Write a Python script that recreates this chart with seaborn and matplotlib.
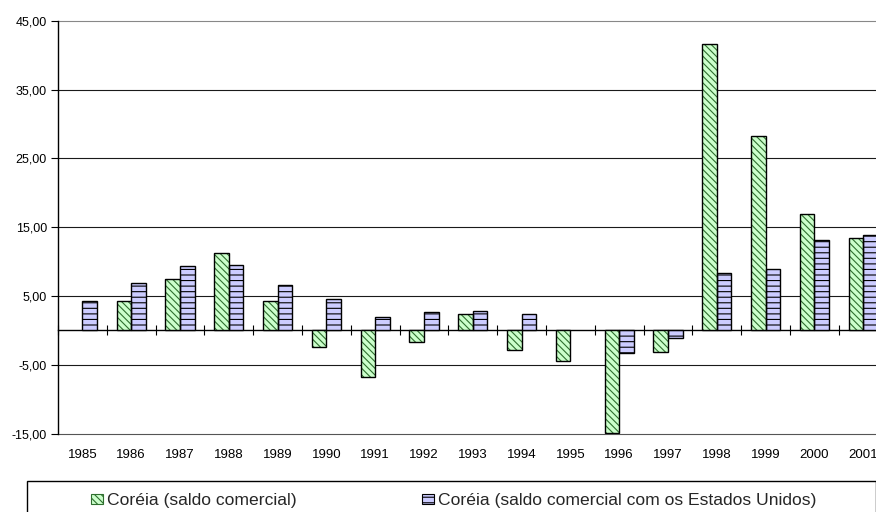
import numpy as np
import pandas as pd
import matplotlib
matplotlib.use("Agg")
import matplotlib.pyplot as plt
import seaborn as sns
from matplotlib.patches import Patch, Rectangle
from matplotlib.ticker import FuncFormatter, NullFormatter

# Trade balance of Korea, 1985-2001 (billion US$)
years = [str(y) for y in range(1985, 2002)]
saldo_total = [np.nan, 4.35, 7.54, 11.2, 4.35, -2.46, -6.81, -1.74, 2.36, -2.86,
               -4.45, -14.93, -3.19, 41.6, 28.26, 16.86, 13.38]
saldo_eua = [4.29, 6.96, 9.36, 9.56, 6.6, 4.54, 1.97, 2.61, 2.84, 2.36,
             np.nan, -3.33, -1.12, 8.3, 8.88, 13.19, 13.91]
series_names = ["Coréia (saldo comercial)",
                "Coréia (saldo comercial com os Estados Unidos)"]
y_ticks = [-15, -5, 5, 15, 25, 35, 45]

sns.set_theme(style="white")
plt.rcParams["font.family"] = ["Liberation Sans", "DejaVu Sans"]
plt.rcParams["hatch.linewidth"] = 0.8

df = pd.DataFrame({
    "ano": years * 2,
    "saldo": saldo_total + saldo_eua,
    "serie": [series_names[0]] * len(years) + [series_names[1]] * len(years),
})

green_fill = "#ccffcc"
green_hatch = "#2f6f2f"
blue_fill = "#ccccff"
green_pattern = "\\\\\\\\\\"
blue_pattern = "---"

W, H = 876, 512
fig = plt.figure(figsize=(W / 100, H / 100), dpi=100, facecolor="white")
ax = fig.add_axes([58 / W, (H - 433.7) / H, 829.6 / W, (433.7 - 20.7) / H])

sns.barplot(data=df, x="ano", y="saldo", hue="serie", order=years,
            hue_order=series_names, palette=[green_fill, blue_fill],
            width=0.6, saturation=1, errorbar=None, legend=False, ax=ax)

# pattern fills: green bars get a fine diagonal hatch plus a black outline
for p in ax.containers[0]:
    h = p.get_height()
    if np.isnan(h):
        continue
    p.set_hatch(green_pattern)
    p.set_edgecolor(green_hatch)
    p.set_linewidth(0)
    ax.add_patch(Rectangle((p.get_x(), p.get_y()), p.get_width(), h,
                           fill=False, edgecolor="black", linewidth=1.0,
                           zorder=p.get_zorder() + 0.1))
for p in ax.containers[1]:
    p.set_hatch(blue_pattern)
    p.set_edgecolor("black")
    p.set_linewidth(1.0)

ax.set_xlim(-0.5, len(years) - 0.5)
ax.set_ylim(y_ticks[0], y_ticks[-1])
ax.set_yticks(y_ticks)
ax.yaxis.set_major_formatter(FuncFormatter(lambda v, _: f"{v:.2f}".replace(".", ",")))
ax.set_xlabel("")
ax.set_ylabel("")
ax.set_axisbelow(True)
ax.grid(axis="y", color="#1a1a1a", linewidth=0.8)
for gl in ax.yaxis.get_gridlines():
    gl.set_clip_on(False)
ax.yaxis.get_gridlines()[-1].set_color("#888888")
ax.yaxis.get_gridlines()[0].set_color("#555555")
ax.tick_params(axis="y", left=True, length=5, width=0.8, color="black",
               pad=3, labelsize=9, labelcolor="black")
ax.tick_params(axis="x", bottom=False, length=0, pad=11, labelsize=9.5,
               labelcolor="black")
for s in ["top", "right", "bottom"]:
    ax.spines[s].set_visible(False)
ax.spines["left"].set_color("black")
ax.spines["left"].set_linewidth(1.0)

# category axis at zero with tick marks between years
zero_frac = (0 - y_ticks[0]) / (y_ticks[-1] - y_ticks[0])
sec = ax.secondary_xaxis(zero_frac)
sec.set_xticks(np.arange(len(years) + 1) - 0.5)
sec.xaxis.set_major_formatter(NullFormatter())
sec.tick_params(direction="inout", length=7, width=0.8, color="black")
for sp in sec.spines.values():
    sp.set_color("black")
    sp.set_linewidth(1.0)

# legend box below the plot
handles = [
    Patch(facecolor=green_fill, edgecolor=green_hatch, hatch=green_pattern, linewidth=0.8),
    Patch(facecolor=blue_fill, edgecolor="black", hatch=blue_pattern, linewidth=0.8),
]
fig.add_artist(Rectangle((27 / W, -0.05), (875.5 - 27) / W, (H - 480.7) / H + 0.05,
                         transform=fig.transFigure, facecolor="white",
                         edgecolor="black", linewidth=1.0, zorder=0))
fig.legend(handles, series_names, loc="center left",
           bbox_to_anchor=(91 / W, (H - 500.7) / H), ncol=2, frameon=False,
           fontsize=12.6, handlelength=0.67, handleheight=0.57,
           handletextpad=0.22, columnspacing=7.2, borderpad=0, borderaxespad=0)

fig.savefig("out.png", dpi=100, facecolor="white")
